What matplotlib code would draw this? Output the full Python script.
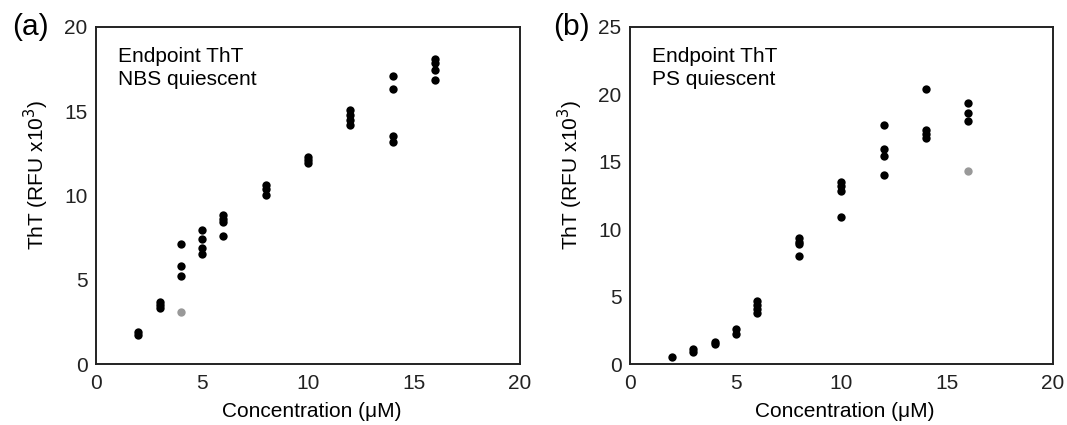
import numpy as np
import matplotlib
matplotlib.use("Agg")
import matplotlib.pyplot as plt

plt.rcParams['font.family'] = ['Liberation Sans', 'DejaVu Sans']

# panel (a): NBS quiescent
a_conc = [2, 2, 3, 3, 3, 4, 4, 4, 5, 5, 5, 5, 6, 6, 6, 6, 8, 8, 8,
          10, 10, 10, 12, 12, 12, 12, 14, 14, 14, 14, 16, 16, 16, 16]
a_tht = [1.9, 1.75, 3.7, 3.5, 3.35, 7.1, 5.8, 5.2, 7.95, 7.4, 6.9, 6.5,
         8.85, 8.6, 8.4, 7.6, 10.65, 10.4, 10.05, 12.3, 12.1, 11.95,
         15.1, 14.8, 14.5, 14.2, 17.1, 16.3, 13.55, 13.2, 18.1, 17.85, 17.45, 16.85]
a_out_conc = [4]
a_out_tht = [3.1]

# panel (b): PS quiescent
b_conc = [2, 3, 3, 4, 4, 5, 5, 6, 6, 6, 6, 8, 8, 8, 8,
          10, 10, 10, 10, 12, 12, 12, 12, 14, 14, 14, 14, 16, 16, 16]
b_tht = [0.55, 1.15, 0.9, 1.6, 1.45, 2.6, 2.25, 4.65, 4.35, 4.05, 3.75,
         9.35, 9.05, 8.9, 8.0, 13.5, 13.2, 12.8, 10.9, 17.7, 15.95, 15.4, 14.05,
         20.4, 17.35, 17.05, 16.8, 19.35, 18.65, 18.0]
b_out_conc = [16]
b_out_tht = [14.3]

fig = plt.figure(figsize=(10.67, 4.25), dpi=100)
ax1 = fig.add_axes([0.090, 0.1435, 0.3974, 0.793])
ax2 = fig.add_axes([0.5904, 0.1435, 0.3965, 0.793])

panels = [
    (ax1, a_conc, a_tht, a_out_conc, a_out_tht, 20, "NBS quiescent", "(a)", 12),
    (ax2, b_conc, b_tht, b_out_conc, b_out_tht, 25, "PS quiescent", "(b)", 553),
]

FS = 15

for ax, x, y, xo, yo, ymax, cond, tag, tagx in panels:
    ax.scatter(x, y, s=36, color='black', linewidths=0, zorder=3)
    ax.scatter(xo, yo, s=36, color='#999999', linewidths=0, zorder=3)
    ax.set_xlim(0, 20)
    ax.set_ylim(0, ymax)
    ax.set_xticks([0, 5, 10, 15, 20])
    ax.set_yticks(np.arange(0, ymax + 1, 5))
    ax.tick_params(length=0, labelsize=FS, colors='#222222')
    ax.tick_params(axis='x', pad=7)
    ax.tick_params(axis='y', pad=6)
    for s in ax.spines.values():
        s.set_linewidth(1.4)
        s.set_color('#222222')
    ax.set_xlabel("Concentration (\u03bcM)", fontsize=FS)
    ax.set_ylabel("ThT (RFU x10$^3$)", fontsize=FS)
    ax.xaxis.set_label_coords(0.508, -0.112)
    ax.yaxis.set_label_coords(-0.106, 0.56)
    ax.text(0.052, 0.94, "Endpoint ThT\n" + cond, transform=ax.transAxes,
            fontsize=FS, va='top', ha='left', linespacing=1.25)
    fig.text(tagx / 1067, 1 - 27 / 425, tag, fontsize=21.5,
             va='center', ha='left')

fig.savefig("out.png", dpi=100)
